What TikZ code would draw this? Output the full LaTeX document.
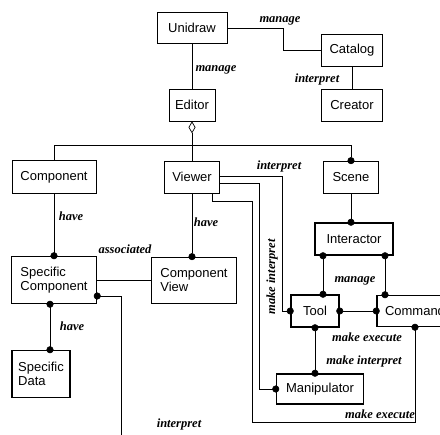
\documentclass[tikz,border=0pt]{standalone}
\usepackage{fontspec}
\setmainfont{Liberation Serif}
\setsansfont{Liberation Sans}
\usetikzlibrary{arrows.meta}
\usetikzlibrary{positioning}

\tikzset{
  cls/.style={draw, line width=0.7pt, font=\sffamily\fontsize{13}{14}\selectfont, inner sep=2pt, align=left},
  clsthick/.style={cls, line width=1.5pt},
  rel/.style={font=\bfseries\itshape\fontsize{12.5}{14}\selectfont, inner sep=0pt},
  link/.style={line width=0.7pt},
  dotend/.style={link, -{Circle[length=7pt]}, shorten >=-3.5pt},
  dotstart/.style={link, {Circle[length=7pt]}-, shorten <=-3.5pt},
  dotboth/.style={link, {Circle[length=7pt]}-{Circle[length=7pt]}, shorten <=-3.5pt, shorten >=-3.5pt},
  aggr/.style={link, {Diamond[open,length=12pt,width=7pt]}-}
}

\begin{document}
\begin{tikzpicture}[x=1pt, y=-1pt, node distance=40pt]

\useasboundingbox (0,0) rectangle (440,435);
\clip (0,0) rectangle (440,435);

% Nodos
\node [cls, minimum width=70pt, minimum height=31pt] at (192,28) (unidraw) {Unidraw};
\node [cls, below of=unidraw, yshift=-37pt, minimum width=46pt, minimum height=32pt] (editor) {Editor};
\node [cls, right of=unidraw, xshift=120pt, yshift=-22pt, minimum width=61pt, minimum height=32pt] (catalog) {Catalog};
\node [cls, below of=catalog, yshift=-15pt, minimum width=61pt, minimum height=32pt] (creator) {Creator};

\node [cls, below of=editor, yshift=-32pt, minimum width=55pt, minimum height=32pt] (viewer) {Viewer};
\node [cls, left of=viewer, xshift=-98pt, minimum width=84pt, minimum height=33pt] (component) {Component};
\node [cls, right of=viewer, xshift=119pt, minimum width=55pt, minimum height=32pt] (scene) {Scene};

\node [clsthick, below of=component, yshift=-63pt, minimum width=85pt, minimum height=47pt] (speccomp) {Specific\\Component};
\node [cls, right of=speccomp, xshift=100pt, minimum width=85pt, minimum height=46pt] (compview) {Component\\View};
\node [clsthick, below of=speccomp, yshift=-54pt, xshift=-13pt, minimum width=58pt, minimum height=47pt] (specdata) {Specific\\Data};

\node [clsthick, below of=scene, yshift=-22pt, xshift=3pt, minimum width=78pt, minimum height=32pt] (interactor) {Interactor};
\node [clsthick, below of=interactor, yshift=-32pt, xshift=-39pt, minimum width=48pt, minimum height=32pt] (tool) {Tool};
\node [clsthick, right of=tool, xshift=60pt, minimum width=76pt, minimum height=31pt] (command) {Command};
\node [clsthick, below of=tool, yshift=-38pt, xshift=5pt, minimum width=87pt, minimum height=30pt] (manip) {Manipulator};

% Etiquetas
\node [rel] at (280,21) (lmanageA) {manage};
\node [rel] at (216,70) (lmanageB) {manage};
\node [rel] at (317,79) (linterpA) {interpret};
\node [rel] at (71,216) (lhaveA) {have};
\node [rel] at (206,222) (lhaveB) {have};
\node [rel] at (125,249) (lassoc) {associated};
\node [rel] at (279,166) (linterpB) {interpret};
\node [rel, rotate=90] at (272,277) (lmakeinterpA) {make interpret};
\node [rel] at (355,281) (lmanageC) {manage};
\node [rel] at (367,337) (lmakeexecA) {make execute};
\node [rel] at (364,361) (lmakeinterpB) {make interpret};
\node [rel] at (380,414) (lmakeexecB) {make execute};
\node [rel] at (72,326) (lhaveC) {have};
\node [rel] at (179,424) (linterpC) {interpret};

% Conexiones
\draw[link] (unidraw.south) -- (editor.north);
\draw[link] (unidraw.east) -- ++(56,0) |- (catalog.west);
\draw[link] (catalog.south) -- (creator.north);

\draw[aggr] (editor.south) -- ++(0,24) coordinate (bus);
\draw[link] (component.north) |- (bus);
\draw[link] (bus) -- (viewer.north);
\draw[dotend] (bus) -| (scene.north);

\draw[dotend] (component.south) -- (speccomp.north);
\draw[dotend] (viewer.south) -- (viewer.south |- compview.north);
\draw[link] (speccomp.east) -- (compview.west);
\draw[dotboth] ([xshift=-4pt]speccomp.south) -- ([xshift=-4pt]speccomp.south |- specdata.north);
\draw[dotstart] ([yshift=-16pt]speccomp.east) -- ++(24,0) -- ++(0,150) coordinate (interpend);

\draw[aggr, -{Circle[length=7pt]}, shorten >=-3.5pt] (scene.south) -- (scene.south |- interactor.north);
\draw[dotboth] ([xshift=-31pt]interactor.south) -- ([xshift=-31pt]interactor.south |- tool.north);
\draw[dotboth] ([xshift=31pt]interactor.south) -- ([xshift=31pt]interactor.south |- command.north);
\draw[dotboth] (tool.east) -- (command.west);
\draw[dotboth] (tool.south) -- (tool.south |- manip.north);

\draw[dotend] ([yshift=1pt]viewer.east) -- ++(62,0) |- (tool.west);
\draw[dotend] ([yshift=-6pt]viewer.east) -- ++(39,0) |- (manip.west);
\draw[dotend] ([xshift=20pt]viewer.south) -- ++(0,8) -- ++(40,0) -- ++(0,221) -| (command.south);

\end{tikzpicture}
\end{document}
